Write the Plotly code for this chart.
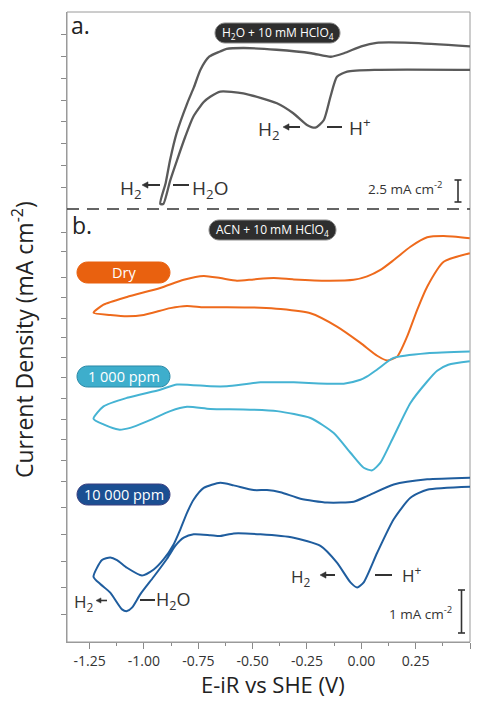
import plotly.graph_objects as go

# ---------------- data ----------------
# Panel a: H2O + 10 mM HClO4  (current density, mA cm^-2, offset so dashed line = 0)
a_E = [0.50, 0.23, 0.07, 0.00, -0.08, -0.14, -0.23, -0.39, -0.54, -0.62, -0.65, -0.70, -0.74, -0.77,
       -0.80, -0.85, -0.88, -0.90, -0.925,
       -0.911, -0.879, -0.848, -0.810, -0.773, -0.725, -0.695, -0.649, -0.543, -0.388, -0.313, -0.25,
       -0.211, -0.173, -0.142, -0.112, -0.065, 0.073, 0.50]
a_j = [18.7, 19.1, 19.1, 18.7, 17.9, 17.5, 17.9, 18.3, 18.5, 18.4, 18.1, 17.5, 16.0, 14.0,
       12.2, 8.7, 5.6, 3.0, 0.6,
       0.57, 3.3, 5.6, 8.3, 10.6, 12.3, 12.9, 13.5, 13.3, 12.15, 11.0, 9.66,
       9.35, 10.2, 12.9, 15.2, 15.8, 16.0, 16.0]

# Panel b: ACN + 10 mM HClO4 (mA cm^-2, each curve offset)
dry_E = [0.499, 0.379, 0.303, 0.226, 0.149, 0.088, 0.027, -0.035, -0.157, -0.311, -0.403, -0.495,
         -0.572, -0.649, -0.725, -0.817, -0.925, -1.078, -1.186, -1.232,
         -1.155, -1.078, -1.001, -0.879, -0.802, -0.725, -0.618, -0.464, -0.372, -0.234, -0.112, -0.004,
         0.073, 0.119, 0.165, 0.211, 0.257, 0.303, 0.379, 0.499]
dry_j = [9.39, 9.44, 9.41, 9.19, 8.88, 8.65, 8.50, 8.42, 8.40, 8.43, 8.46, 8.43, 8.40, 8.46, 8.51,
         8.42, 8.23, 8.02, 7.84, 7.65,
         7.60, 7.57, 7.60, 7.76, 7.81, 7.78, 7.78, 7.77, 7.74, 7.64, 7.33, 6.95,
         6.65, 6.54, 6.63, 7.10, 7.72, 8.26, 8.84, 9.04]

ppm1k_E = [0.499, 0.303, 0.148, 0.073, 0.027, -0.004, -0.081, -0.311, -0.464, -0.618, -0.695, -0.848,
           -0.925, -1.078, -1.186, -1.232,
           -1.186, -1.117, -1.063, -0.986, -0.879, -0.802, -0.695, -0.542, -0.388, -0.234, -0.127, -0.050,
           0.011, 0.050, 0.088, 0.149, 0.226, 0.303, 0.349, 0.40, 0.499]
ppm1k_j = [6.75, 6.71, 6.60, 6.33, 6.17, 6.09, 6.00, 6.03, 6.03, 5.94, 5.94, 5.98,
           5.86, 5.67, 5.47, 5.18,
           5.05, 4.93, 4.97, 5.12, 5.36, 5.46, 5.41, 5.40, 5.36, 5.20, 4.85, 4.39,
           4.04, 3.98, 4.16, 4.77, 5.55, 6.05, 6.30, 6.44, 6.52]

ppm10k_E = [0.50, 0.303, 0.149, 0.027, -0.035, -0.157, -0.280, -0.372, -0.434, -0.495, -0.587, -0.649,
            -0.725, -0.771, -0.802, -0.833, -0.863, -0.909, -0.955, -1.009, -1.078, -1.124, -1.155,
            -1.193, -1.232,
            -1.201, -1.155, -1.101, -1.078, -1.055, -1.017, -0.955, -0.894, -0.856, -0.817, -0.771,
            -0.695, -0.649, -0.587, -0.464, -0.311, -0.188, -0.112, -0.050, -0.019, 0.011, 0.073,
            0.149, 0.226, 0.303, 0.50]
ppm10k_j = [3.81, 3.77, 3.65, 3.38, 3.25, 3.23, 3.32, 3.47, 3.52, 3.52, 3.63, 3.69,
            3.57, 3.30, 2.99, 2.60, 2.26, 1.91, 1.67, 1.53, 1.71, 1.89, 1.95,
            1.89, 1.50,
            1.33, 1.13, 0.74, 0.70, 0.78, 1.09, 1.50, 1.92, 2.22, 2.41, 2.49,
            2.47, 2.45, 2.51, 2.49, 2.41, 2.22, 1.83, 1.37, 1.25, 1.37, 2.06,
            2.84, 3.34, 3.53, 3.60]

x_ticks = [-1.25, -1.00, -0.75, -0.50, -0.25, 0.00, 0.25, 0.50]
x_ticklabels = ["-1.25", "-1.00", "-0.75", "-0.50", "-0.25", "0.00", "0.25", "0.50"]
x_minor = [-1.125, -0.875, -0.625, -0.375, -0.125, 0.125, 0.375]
a_yticks = [2.5, 5.0, 7.5, 10.0, 12.5, 15.0, 17.5, 20.0]
b_yticks = [9.53, 9.07, 8.47, 8.00, 7.53, 7.07, 6.60, 6.14, 5.65, 5.16, 4.70, 4.21, 3.72,
            3.12, 2.49, 1.86, 1.26, 0.63]

# ---------------- layout helpers ----------------
PL, PR, PT, PB = 67, 470, 12, 642
SPLIT = (PB - 209) / (PB - PT)


def X(px):
    return (px - PL) / (PR - PL)


def Y(py):
    return (PB - py) / (PB - PT)


FONT = "Open Sans"

fig = go.Figure()
line_common = dict(width=2, shape="spline", smoothing=0.6)
fig.add_trace(go.Scatter(x=a_E, y=a_j, xaxis="x", yaxis="y2", mode="lines",
                         line=dict(color="#5a5a5a", **{**line_common, "width": 2.3})))
fig.add_trace(go.Scatter(x=dry_E, y=dry_j, mode="lines", line=dict(color="#EE6A1C", **line_common)))
fig.add_trace(go.Scatter(x=ppm1k_E, y=ppm1k_j, mode="lines", line=dict(color="#45B3D3", **line_common)))
fig.add_trace(go.Scatter(x=ppm10k_E, y=ppm10k_j, mode="lines", line=dict(color="#1F5D9E", **line_common)))

axis_common = dict(showgrid=False, zeroline=False, showline=True, linecolor="#9a9a9a", linewidth=1,
                   ticks="outside", tickcolor="#8a8a8a", tickwidth=1)

fig.update_layout(
    width=479, height=702,
    margin=dict(l=PL, r=479 - PR, t=PT, b=702 - PB),
    plot_bgcolor="white", paper_bgcolor="white", showlegend=False,
    font=dict(family=FONT, color="#333"),
    xaxis=dict(range=[-1.354, 0.5], tickvals=x_ticks, ticktext=x_ticklabels, ticklen=6,
               tickfont=dict(size=14, color="#333"), anchor="y",
               minor=dict(tickvals=x_minor, ticks="outside", ticklen=3, tickcolor="#8a8a8a"),
               **axis_common),
    yaxis=dict(domain=[0, SPLIT], range=[-0.02, 10.07], tickvals=b_yticks, showticklabels=False,
               ticklen=5, anchor="x", **axis_common),
    yaxis2=dict(domain=[SPLIT, 1], range=[0, 22.64], tickvals=a_yticks, showticklabels=False,
                ticklen=5, anchor="x", **axis_common),
)

shapes = []
# frame top/right
shapes.append(dict(type="rect", xref="paper", yref="paper", x0=0, x1=1, y0=0, y1=1,
                   line=dict(color="#9a9a9a", width=1), layer="below"))
# dashed separator
shapes.append(dict(type="line", xref="paper", yref="paper", x0=0, x1=1, y0=SPLIT, y1=SPLIT,
                   line=dict(color="#333", width=1.3, dash="12px,8px")))


def path_of(pts):
    s = ""
    for cmd, ps in pts:
        s += cmd + " " + " ".join(f"{X(px):.5f},{Y(py):.5f}" for px, py in ps) + " "
    return s + "Z"


def pill(x0, x1, y0, y1, fill, border):
    r = (y1 - y0) / 2
    k = 0.5523 * r
    ym = (y0 + y1) / 2
    pts = [
        ("M", [(x0 + r, y0)]),
        ("L", [(x1 - r, y0)]),
        ("C", [(x1 - r + k, y0), (x1, ym - k), (x1, ym)]),
        ("C", [(x1, ym + k), (x1 - r + k, y1), (x1 - r, y1)]),
        ("L", [(x0 + r, y1)]),
        ("C", [(x0 + r - k, y1), (x0, ym + k), (x0, ym)]),
        ("C", [(x0, ym - k), (x0 + r - k, y0), (x0 + r, y0)]),
    ]
    return dict(type="path", xref="paper", yref="paper", path=path_of(pts), fillcolor=fill,
                line=dict(color=border, width=1))


shapes.append(pill(215, 340, 23, 43, "#2e2e2e", "#8a8a8a"))
shapes.append(pill(209, 336, 220, 240, "#2e2e2e", "#8a8a8a"))
shapes.append(pill(77, 170, 262, 283, "#E9610F", "#E9610F"))
shapes.append(pill(77, 170, 366, 387, "#3EAECC", "#2a88a6"))
shapes.append(pill(77, 170, 484, 505, "#1B4F92", "#3b3f80"))


def hline(x0, x1, y, w=2):
    return dict(type="line", xref="paper", yref="paper", x0=X(x0), x1=X(x1), y0=Y(y), y1=Y(y),
                line=dict(color="#333", width=w))


def vline(x, y0, y1, w=1.6):
    return dict(type="line", xref="paper", yref="paper", x0=X(x), x1=X(x), y0=Y(y0), y1=Y(y1),
                line=dict(color="#333", width=w))


def arrow(tip, tail, y, head=6, half=3.2, w=2):
    # shaft + triangular head pointing left
    out = [hline(tip + head - 1, tail, y, w)]
    out.append(dict(type="path", xref="paper", yref="paper",
                    path=path_of([("M", [(tip, y)]), ("L", [(tip + head, y - half)]),
                                  ("L", [(tip + head, y + half)])]),
                    fillcolor="#333", line=dict(color="#333", width=0.5)))
    return out


# dashes of the "H2 <- -- H2O" labels
shapes += [hline(173, 189, 185), hline(327, 342, 127), hline(140, 155, 600), hline(375, 392, 575)]
shapes += arrow(142, 160, 185)
shapes += arrow(283, 300, 127)
shapes += arrow(96, 107, 600.5, head=5, half=2.6, w=1.6)
shapes += arrow(320, 335, 575)
# scale bars
shapes += [vline(458, 180, 202), hline(454.5, 461.5, 180, 1.6), hline(454.5, 461.5, 202, 1.6)]
shapes += [vline(461.5, 590, 633), hline(458, 465, 590, 1.6), hline(458, 465, 633, 1.6)]
fig.update_layout(shapes=shapes)

ann = []


def text(px, py, s, size, color="#333", xanchor="center", **kw):
    ann.append(dict(x=X(px), y=Y(py), xref="paper", yref="paper", text=s, showarrow=False,
                    xanchor=xanchor, yanchor="middle", font=dict(size=size, color=color, family=FONT), **kw))


text(80, 25, "a.", 23, "#222")
text(82, 225, "b.", 23, "#222")
text(277.5, 33, "H<sub>2</sub>O + 10 mM HClO<sub>4</sub>", 12, "white")
text(272.5, 230, "ACN + 10 mM HClO<sub>4</sub>", 12, "white")
text(123.5, 272.5, "Dry", 14.5, "white")
text(123.5, 376.5, "1 000 ppm", 14.5, "white")
text(123.5, 494.5, "10 000 ppm", 14.5, "white")

text(131, 189, "H<sub>2</sub>", 19)
text(210, 189, "H<sub>2</sub>O", 19)
text(268.5, 130, "H<sub>2</sub>", 19)
text(360, 127, "H<sup>+</sup>", 19)
text(405, 188, "2.5 mA cm<sup>-2</sup>", 13.5)

text(83.5, 602, "H<sub>2</sub>", 17)
text(173.5, 600, "H<sub>2</sub>O", 18)
text(301, 577, "H<sub>2</sub>", 17)
text(412, 574, "H<sup>+</sup>", 17)
text(420, 613, "1 mA cm<sup>-2</sup>", 13.5)

text(23, 340, "Current Density (mA cm<sup>-2</sup>)", 23, "#222", textangle=-90)
ann.append(dict(x=X(272.5), y=Y(701), xref="paper", yref="paper", text="E-iR vs SHE (V)",
                showarrow=False, xanchor="center", yanchor="bottom",
                font=dict(size=22, color="#222", family=FONT)))

fig.update_layout(annotations=ann)
fig.write_html("out.html")
